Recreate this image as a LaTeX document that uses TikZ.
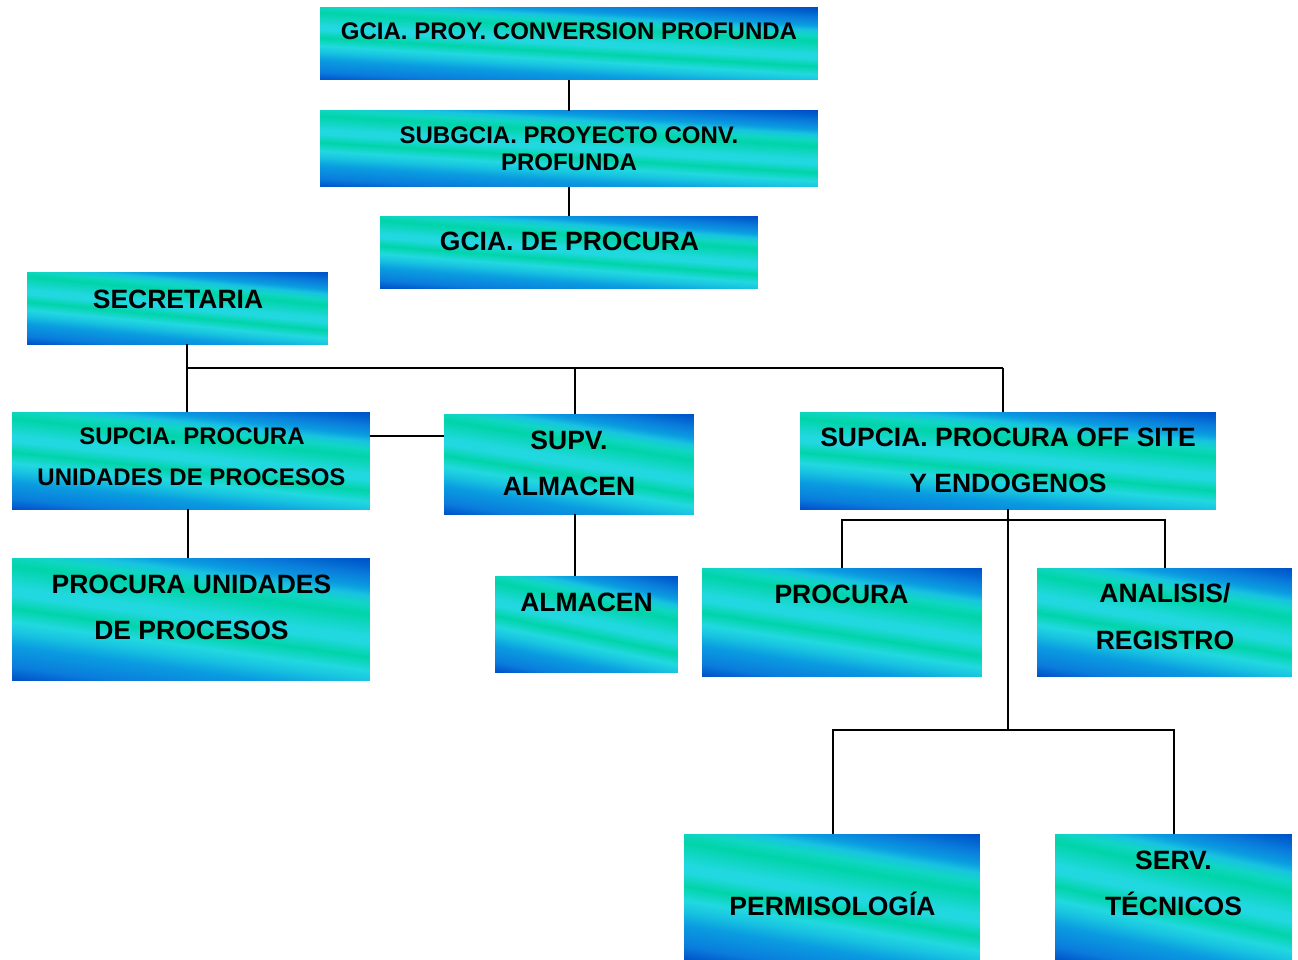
\documentclass[tikz,border=0pt]{standalone}
\usepackage{fontspec}
\setmainfont{Liberation Sans}

% colours of the box gradient
\definecolor{sdark}{HTML}{0050C8}
\definecolor{sdeep}{HTML}{0062CE}
\definecolor{sblue}{HTML}{0A7CDC}
\definecolor{slight}{HTML}{0A9CE0}
\definecolor{smid}{HTML}{18C4E0}
\definecolor{scyan}{HTML}{22D8E0}
\definecolor{sgreen}{HTML}{00D4A8}
\definecolor{sseaf}{HTML}{10D6C4}

% banded gradient (bottom to top); each box slants and stretches it
\pgfdeclareverticalshading{boxshade}{100bp}{%
  color(0bp)=(sdark); color(28.1bp)=(sdark); color(31.6bp)=(sblue);
  color(36.9bp)=(slight); color(40.4bp)=(smid); color(43bp)=(scyan);
  color(46.5bp)=(sgreen); color(50bp)=(scyan); color(51.75bp)=(scyan);
  color(57.4bp)=(sgreen); color(60.1bp)=(sseaf); color(62.25bp)=(smid);
  color(64.4bp)=(slight); color(67.5bp)=(sblue); color(70.1bp)=(sdeep);
  color(71.9bp)=(sdark); color(100bp)=(sdark)}

\tikzset{
  orgbox/.style={rectangle, draw=none, inner sep=0pt, outer sep=0pt},
  conn/.style={line width=2.6pt, black},
  thinconn/.style={line width=2pt, black},
  lineL/.style={anchor=base, inner sep=0pt, text=black,
    font=\bfseries\fontsize{26.5}{30}\selectfont},
  lineS/.style={anchor=base, inner sep=0pt, text=black,
    font=\bfseries\fontsize{24}{28}\selectfont},
}

% shaded box: name, centre x, centre y, width, height
\newcommand\orgnode[5]{%
  \begin{scope}[transform canvas={shift={(#2,#3)}, xscale=#4/100, yscale=#5/100}]
    \clip (-50,-50) rectangle (50,50);
    \fill[sdark] (-50,-50) rectangle (50,50);
    \begin{scope}[transform canvas={yslant=-0.4}]
      \shade[shading=boxshade] (-50,-80) rectangle (50,80);
    \end{scope}
  \end{scope}
  \node[orgbox, minimum width=#4pt, minimum height=#5pt] (#1) at (#2,#3) {};
}

\begin{document}
\begin{tikzpicture}[x=1pt, y=-1pt]
\useasboundingbox (0,0) rectangle (1298,960);

% ---------- boxes ----------
\orgnode{b1}{569}{44}{498}{72}
\orgnode{b2}{569}{149}{498}{76}
\orgnode{b3}{569}{252}{378}{72}
\orgnode{b4}{177.5}{308}{301}{72}
\orgnode{b5}{191}{460.5}{358}{97}
\orgnode{b6}{569}{464}{250}{100}
\orgnode{b7}{1008}{460.5}{416}{97}
\orgnode{b8}{191}{619}{358}{122}
\orgnode{b9}{586.5}{624}{183}{96}
\orgnode{b10}{842}{622}{280}{108}
\orgnode{b11}{1164.5}{622}{255}{108}
\orgnode{b12}{832}{897}{296}{126}
\orgnode{b13}{1173.5}{897}{237}{126}

% ---------- labels ----------
\node[lineS] (t1)  at (569,40)     {GCIA. PROY. CONVERSION PROFUNDA};
\node[lineS] (t2a) at (569,143.3)  {SUBGCIA. PROYECTO CONV.};
\node[lineS] (t2b) at (569,171)    {PROFUNDA};
\node[lineL] (t3)  at (569.5,250.7) {GCIA. DE PROCURA};
\node[lineL] (t4)  at (178,308.5)  {SECRETARIA};
\node[lineS] (t5a) at (192,444.6)  {SUPCIA. PROCURA};
\node[lineS] (t5b) at (191.5,485.6) {UNIDADES DE PROCESOS};
\node[lineL] (t6a) at (569,449.5)  {SUPV.};
\node[lineL] (t6b) at (569,495.5)  {ALMACEN};
\node[lineL] (t7a) at (1008,446.5) {SUPCIA. PROCURA OFF SITE};
\node[lineL] (t7b) at (1008,492.5) {Y ENDOGENOS};
\node[lineL] (t8a) at (191.5,593.5) {PROCURA UNIDADES};
\node[lineL] (t8b) at (191.5,639.5) {DE PROCESOS};
\node[lineL] (t9)  at (586.5,611.5) {ALMACEN};
\node[lineL] (t10) at (841.5,603.5) {PROCURA};
\node[lineL] (t11a) at (1165,602.5) {ANALISIS/};
\node[lineL] (t11b) at (1165,649.5) {REGISTRO};
\node[lineL] (t12) at (832.5,915.5) {PERMISOLOGÍA};
\node[lineL] (t13a) at (1173.5,869.5) {SERV.};
\node[lineL] (t13b) at (1173.5,915.5) {TÉCNICOS};

% ---------- junction points ----------
\coordinate (jA) at (187,368);
\coordinate (jB) at (575,368);
\coordinate (jC) at (1003,368);
\coordinate (jE) at (1008,730);
\coordinate (jF) at (842,520);
\coordinate (jG) at (1165,520);
\coordinate (jH) at (833,730);
\coordinate (jI) at (1174,730);
\coordinate (jJ) at (0,436);
\coordinate (jK) at (188,0);
\coordinate (jL) at (575,0);

% ---------- connectors ----------
\draw[thinconn] (b1.south) -- (b2.north);
\draw[thinconn] (b2.south) -- (b3.north);
\draw[conn] (b4.south -| jA) -- (b5.north -| jA);
\draw[conn] (jA) -- (jC);
\draw[thinconn] (jB) -- (b6.north -| jB);
\draw[conn] (jC) -- (b7.north -| jC);
\draw[thinconn] (b5.east |- jJ) -- (b6.west |- jJ);
\draw[conn] (b5.south -| jK) -- (b8.north -| jK);
\draw[thinconn] (b6.south -| jL) -- (b9.north -| jL);
\draw[conn] (b7.south) -- (jE);
\draw[thinconn] (b10.north -| jF) -- (jF) -- (jG) -- (b11.north -| jG);
\draw[thinconn] (b12.north -| jH) -- (jH) -- (jI) -- (b13.north -| jI);
\end{tikzpicture}
\end{document}
